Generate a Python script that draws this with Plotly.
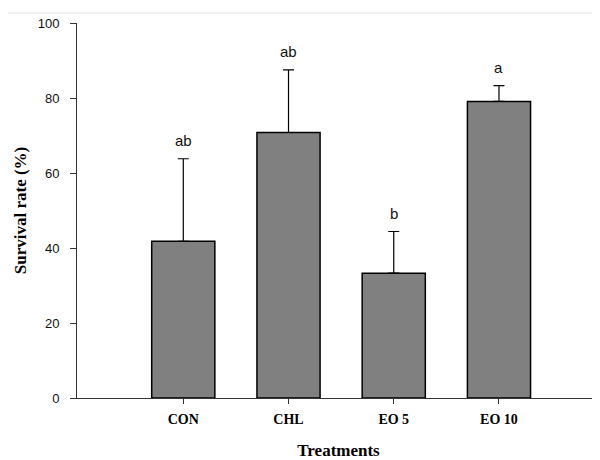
import plotly.graph_objects as go

categories = ["CON", "CHL", "EO 5", "EO 10"]
survival = [41.8, 70.8, 33.3, 79.1]
error_up = [22.0, 16.7, 11.1, 4.2]
letters = ["ab", "ab", "b", "a"]
y_ticks = [0, 20, 40, 60, 80, 100]

xpos = list(range(len(categories)))

fig = go.Figure()
fig.add_trace(go.Bar(
    x=xpos, y=survival, width=0.6,
    marker=dict(color="#808080", line=dict(color="#000000", width=1.5)),
    error_y=dict(type="data", symmetric=False, array=error_up,
                 arrayminus=[0] * len(error_up),
                 color="#000000", thickness=1.2, width=5.5),
    showlegend=False,
))

for xi, m, e, t in zip(xpos, survival, error_up, letters):
    fig.add_annotation(x=xi, y=m + e, text=t, showarrow=False,
                       yanchor="middle", yshift=18,
                       font=dict(family="Liberation Sans, Arial", size=15, color="#111111"))

fig.add_shape(type="line", xref="paper", yref="paper",
              x0=-0.132, x1=1.02, y0=1.0265, y1=1.0265,
              line=dict(color="#e6e6e6", width=1))

fig.update_layout(
    width=600, height=460,
    margin=dict(l=69, r=8, t=12.5, b=70),
    paper_bgcolor="white", plot_bgcolor="white",
    bargap=0.4,
    xaxis=dict(
        range=[-1.01, 3.96], tickmode="array", tickvals=xpos, ticktext=categories,
        showline=True, linecolor="#333333", linewidth=1,
        ticks="outside", ticklen=5, tickcolor="#333333",
        showgrid=False, zeroline=False,
        ticklabelstandoff=3,
        tickfont=dict(family="Liberation Serif, Times New Roman", size=14, color="#000000", weight="bold"),
        title=dict(text="<b>Treatments</b>", standoff=18,
                   font=dict(family="Liberation Serif, Times New Roman", size=17, color="#000000")),
    ),
    yaxis=dict(
        range=[0, 100], tickmode="array", tickvals=y_ticks,
        showline=True, linecolor="#333333", linewidth=1,
        ticks="outside", ticklen=6, tickcolor="#333333",
        showgrid=False, zeroline=False,
        ticklabelstandoff=8,
        tickfont=dict(family="Liberation Sans, Arial", size=13, color="#111111"),
        title=dict(text="<b>Survival rate (%)</b>", standoff=6,
                   font=dict(family="Liberation Serif, Times New Roman", size=17, color="#000000")),
    ),
)

fig.write_html("out.html")
